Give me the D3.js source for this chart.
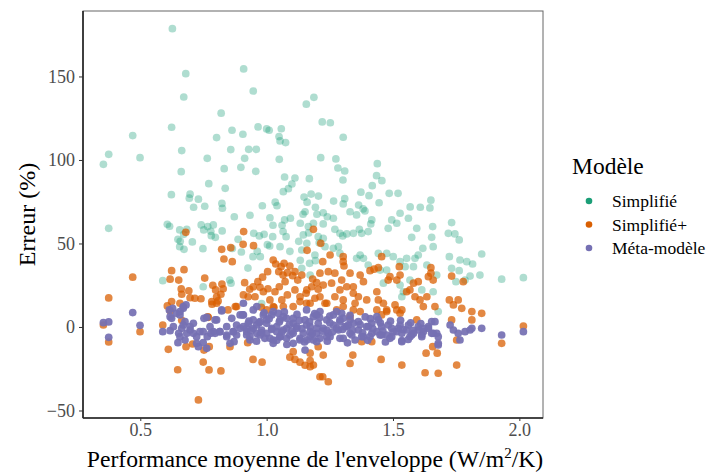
<!DOCTYPE html>
<html><head><meta charset="utf-8">
<script src="https://cdn.jsdelivr.net/npm/d3@7"></script>
<style>body{margin:0;background:#fff}svg{display:block}</style>
</head><body>
<svg id="c" width="728" height="476"></svg>
<script>
const seriesNames = ["Simplifié", "Simplifié+", "Méta-modèle"];
const seriesColors = ["#1B9E77", "#D95F02", "#7570B3"];
const xTicks = [0.5, 1.0, 1.5, 2.0];
const yTicks = [-50, 0, 50, 100, 150];

const simplifieX = [0.627,0.68,0.909,0.672,0.947,1.187,1.157,0.82,0.624,0.47,0.375,0.354,0.499,0.664,0.662,0.623,0.802,0.863,0.906,0.966,1.0,1.01,1.058,1.049,1.053,1.075,0.858,0.929,0.959,0.913,0.765,0.898,0.832,0.957,1.05,0.771,0.836,1.071,1.112,1.169,1.086,1.1,1.066,0.697,0.694,0.73,0.823,0.755,0.711,0.983,1.034,1.148,1.176,1.205,1.16,1.193,1.22,1.252,1.303,1.214,1.274,1.282,1.309,1.302,1.438,1.435,1.456,1.418,1.373,1.405,1.485,1.52,1.265,1.303,1.309,1.364,1.382,1.445,1.568,1.608,1.65,1.646,
0.375,0.607,0.616,0.656,0.684,0.672,0.649,0.658,0.656,0.673,0.706,0.748,0.741,0.767,0.789,0.779,0.751,0.781,0.797,0.824,0.825,0.872,0.934,0.887,0.9,0.949,0.971,0.99,1.013,1.025,1.041,1.071,1.094,1.133,1.061,1.065,1.077,1.053,1.012,0.963,0.975,1.003,0.946,1.024,0.926,0.854,0.859,0.749,0.589,0.98,1.127,1.092,1.133,1.166,1.144,1.152,1.199,1.185,1.208,1.17,1.193,1.139,0.864,
1.224,1.24,1.224,1.264,1.27,1.33,1.356,1.389,1.416,1.412,1.367,1.343,1.317,1.301,1.29,1.376,1.402,1.495,1.481,1.515,1.528,1.561,1.594,1.574,1.618,1.657,1.653,1.659,1.732,1.719,1.745,1.762,1.723,1.765,1.792,1.815,1.851,1.93,2.016,1.749,1.785,1.805,1.762,1.732,1.554,1.587,1.6,1.548,1.581,1.634,1.475,1.442,1.501,1.528,1.383,1.37,1.356,1.402,1.449,1.475,1.165,1.204,1.224,1.145,1.159,1.139,1.172,1.191,1.231,1.264,1.284,1.29,1.673,1.614,1.659,1.528,1.535,1.541,1.679,1.844,1.567,1.462];
const simplifieY = [178.6,151.7,154.5,137.7,141.3,137.5,133.4,128,119.6,114.6,103.4,97.4,101.4,105.6,93,79.2,113.4,117.8,115.4,119.8,118.6,117.8,118.7,114,111.4,110.4,106.2,106.4,106.4,101,101,95.6,94.8,93.2,100.4,85.8,83,89.8,89.2,88.8,82.8,85.6,81,79.5,77.1,76.5,74,72.3,71.7,72.6,74.7,77.8,79.6,78.4,74.7,71.7,122.8,122.3,113.6,101.4,100.6,95.2,93.4,88,97.8,90.6,87.6,84.6,80.7,78.6,80,80,75.4,73.7,76.8,73,70.7,74.4,71.9,71.7,75.9,71.3,
59.1,61.5,60.3,58.1,58.5,55.5,52.5,51.3,48.1,46.5,50.9,46.9,61.1,60.1,61.1,57.3,58.1,54.7,53.7,57.5,71.1,66.0,66.9,52.5,44.9,56.1,54.5,55.5,65.4,60.9,72.6,64.1,65.1,62.1,60.9,57.1,54.1,48.1,48.5,45.3,42.1,49.3,42.1,54.1,35.3,28.1,26.2,24.1,27.7,14.0,51.3,45.3,39.9,56.3,67.5,69.0,67.5,62.1,50.5,38.1,39.7,35.1,47.0,
68.4,66.0,61.7,65.1,58.5,69.0,67.1,69.5,64.1,61.7,58.5,56.1,55.7,54.5,56.1,56.1,57.1,64.1,59.1,62.1,68.1,65.1,59.1,53.7,47.1,60.1,53.7,48.1,62.5,56.1,55.7,52.1,42.1,40.1,39.1,37.7,43.7,28.6,29.5,27.1,28.1,30.5,33.7,35.1,41.1,41.1,43.1,36.1,36.1,37.1,44.1,44.1,42.1,39.1,41.1,43.1,41.1,37.1,34.1,34.1,60.1,54.1,53.1,55.1,50.1,46.1,31.1,43.1,48.1,47.1,48.1,44.1,31.1,22.2,21.1,25.1,18.1,21.1,9.2,31.1,28.1,26.2];

const simplifiePlusX = [0.68,0.909,0.822,0.858,0.907,0.948,0.831,0.864,0.47,0.375,0.624,0.673,0.618,0.652,0.755,0.662,0.692,0.664,0.697,0.716,0.74,0.787,0.798,0.823,0.828,0.802,0.819,0.784,0.808,0.876,0.847,0.767,0.607,0.619,0.913,0.933,0.947,0.965,0.984,1.004,1.026,1.036,1.057,1.069,1.092,1.103,1.112,1.123,1.16,1.048,1.065,1.082,1.073,1.05,1.033,1.005,0.987,0.974,0.954,0.927,0.908,1.013,0.979,1.06,1.082,1.112,1.132,1.156,1.178,1.182,1.198,1.204,1.158,1.105,1.029,1.0,1.191,1.139,
1.185,1.214,1.251,1.303,1.303,1.306,1.222,1.455,1.409,1.425,1.442,1.525,1.65,1.65,1.211,1.244,1.27,1.297,1.33,1.37,1.383,1.343,1.317,1.29,1.257,1.224,1.159,1.211,1.231,1.27,1.303,1.343,1.363,1.396,1.442,1.481,1.515,1.488,1.528,1.6,1.581,1.64,1.659,1.567,1.554,1.587,1.634,1.607,1.666,1.723,1.758,1.772,1.812,1.851,1.732,1.778,1.436,1.462,1.475,1.515,1.528,1.303,1.343,
0.354,0.375,0.499,0.589,0.611,0.648,0.681,0.707,0.752,0.749,0.772,0.819,0.73,0.773,0.855,0.925,0.946,0.982,1.105,1.092,1.112,1.132,1.152,1.172,1.185,1.172,1.204,1.211,0.624,0.657,0.783,0.802,0.881,1.026,1.066,1.132,1.172,0.769,0.664,
1.238,1.35,1.508,1.535,1.62,1.739,1.812,1.732,1.752,1.93,2.016,1.172,1.224,1.222,1.244,1.33,1.341,1.453,1.535,1.631,1.675,1.657,1.627,1.679,1.752,1.416,1.376,1.475,1.455,1.594,1.436,1.33,1.37,1.277];
const simplifiePlusY = [56.7,57.1,46.5,47.5,49.5,48.7,40.7,39.1,29.8,17.4,33.7,34.3,28.6,28.1,29.3,22.8,21.7,19.6,17.5,17.2,16.9,25.0,22.2,25.7,22.9,18.1,19.6,13.6,15.6,12.2,10.2,6.0,12.6,9.6,26.5,22.6,24.1,27.1,29.8,33.1,40.1,37.7,36.1,38.1,36.5,30.7,33.1,28.1,45.9,33.1,31.1,32.5,27.1,24.1,21.1,22.9,21.1,23.8,18.1,18.1,19.2,16.2,11.8,16.2,19.2,22.2,18.1,20.2,24.1,28.7,26.5,22.6,14.2,12.2,11.8,10.2,17.2,31.1,
58.5,50.1,43.1,42.1,39.1,36.5,39.1,42.1,33.7,34.6,35.5,36.1,35.5,32.2,32.2,33.1,32.2,28.1,32.2,31.1,27.1,24.1,24.1,22.2,26.2,25.1,22.2,18.1,14.2,18.1,16.2,20.2,18.1,16.2,16.2,28.1,28.1,30.1,31.1,27.1,26.2,30.1,28.1,22.2,21.1,18.1,18.1,16.2,12.2,16.2,16.2,11.2,9.2,8.2,30.5,27.1,21.1,14.2,10.2,10.2,8.2,12.2,10.2,
1.2,-9.0,-2.8,1.2,-13.4,-25.6,-11.8,-10.2,-13.8,-21.0,-25.7,-26.3,-43.7,-11.8,-11.8,-9.4,-19.4,-21.1,-14.8,-18.1,-19.4,-21.1,-22.9,-20.2,-22.8,-23.8,-11.8,-29.8,15.2,14.2,15.2,14.2,12.2,12.2,12.2,15.2,14.2,5.8,4.0,
14.2,14.2,13.2,10.2,12.2,13.2,4.2,4.2,-7.8,-9.8,0.6,-15.7,-16.8,-29.8,-32.8,-21.8,-16.8,-19.4,-22.8,-15.7,-15.7,-11.8,-27.4,-27.7,-22.8,-8.8,-8.8,9.2,7.2,4.2,10.2,6.2,9.2,10.2];

const metaX = [0.354,0.375,0.375,0.47,0.499,0.589,0.618,0.624,0.615,0.628,0.644,0.657,0.67,0.681,0.677,0.664,0.652,0.684,0.697,0.71,0.723,0.649,0.677,0.73,0.749,0.765,0.779,0.736,0.752,0.763,0.802,0.822,0.789,0.815,0.842,0.868,0.881,0.862,0.871,0.908,0.905,0.908,0.921,0.947,0.934,0.961,0.98,1.0,0.993,1.02,1.04,1.053,1.066,1.079,1.105,1.119,1.145,1.172,1.198,1.053,1.079,1.105,1.158,1.185,1.204,0.974,1.0,1.02,1.046,0.947,0.927,1.152,1.026,1.132,1.185,0.961,0.881,0.842,0.763,
1.152,1.172,1.224,1.244,1.264,1.284,1.29,1.31,1.33,1.343,1.363,1.383,1.396,1.416,1.436,1.455,1.475,1.495,1.515,1.528,1.554,1.581,1.6,1.62,1.64,1.659,1.653,1.673,1.679,1.726,1.739,1.758,1.765,1.785,1.805,1.812,1.851,1.93,2.016,1.535,1.436,1.211,1.264,1.297,1.238,1.303,1.35,1.409,1.488,1.567,1.614,1.159,1.449,
0.908,0.947,0.987,1.026,1.066,1.105,1.198,1.238,1.277,1.303,0.921,0.961,1.0,1.04,1.079,1.119,1.158,1.198,1.238,1.277,1.317,0.934,0.974,1.013,1.053,1.092,1.132,1.172,1.211,1.251,1.29,1.026,1.105,1.198,
1.323,1.363,1.402,1.442,1.481,1.521,1.561,1.6,1.64,1.666,1.337,1.376,1.416,1.455,1.495,1.535,1.574,1.614,1.653,1.679,1.535,1.679,
0.618,0.657,0.67,0.631,0.67,0.697,0.71,0.749,0.776,0.796,0.815,0.842,0.868,0.895,0.921,0.657,0.723,0.855,0.895,0.822,0.796,
0.93,0.97,1.01,1.05,1.09,1.13,1.17,1.21,1.25,1.29,1.33,1.37,1.41,1.45,1.49,1.53,1.57,1.61,
0.94,0.98,1.02,1.06,1.10,1.14,1.18,1.22,1.26,1.30,1.34,1.38,1.42,1.46,1.50,1.54,1.58,1.62,
0.96,1.04,1.08,1.15,1.24,1.32,1.40,1.47,1.56,
0.99,1.07,1.12,1.19,1.25,1.33,1.39];
const metaY = [2.6,3.0,-6.2,8.6,1.0,-2.8,-2.2,5.2,10.2,11.2,8.2,7.2,11.2,13.2,3.2,-0.8,-3.8,-3.8,0.2,-3.8,-5.8,-9.4,-7.8,-11.8,-9.4,-5.8,-3.8,-2.8,5.2,5.8,4.2,9.6,-2.8,-2.8,0.2,-2.8,1.2,5.2,-8.8,14.2,7.2,0.2,-2.8,-0.8,-7.8,-3.8,-1.8,-3.8,-6.8,-0.8,-2.8,-5.8,-1.8,-6.8,-3.8,-0.8,-3.8,-2.8,-3.8,4.2,5.2,2.2,10.2,6.2,2.2,3.2,4.2,7.2,8.2,4.2,2.2,-13.8,-7.8,-7.8,-7.8,12.2,-4.8,-5.8,-12.8,
4.2,0.2,-0.8,-3.8,1.2,-1.8,4.2,0.2,-3.8,2.2,-1.8,-5.8,0.2,2.2,-2.8,0.2,-4.8,-0.8,-2.8,1.2,-1.8,-3.8,0.2,-2.8,-0.8,-3.8,3.2,-3.8,-10.8,1.2,-1.8,-3.8,-7.8,-2.8,-1.8,-0.8,-0.8,-4.8,-2.8,-8.2,6.2,9.2,7.2,8.2,-5.8,-6.8,-7.8,-5.8,-6.8,-5.8,-4.8,-7.8,-4.8,
7.2,10.2,7.2,9.2,6.2,5.2,7.2,4.2,9.2,5.2,-0.8,1.2,2.2,0.2,-0.8,0.2,1.2,-0.8,-1.8,-0.8,0.2,-5.8,-4.8,-6.8,-5.8,-4.8,-6.8,-5.8,-6.8,-5.8,-6.8,-9.8,-9.8,-8.8,
1.2,3.2,0.2,4.2,1.2,-0.8,1.2,-1.8,0.2,3.2,-4.8,-5.8,-3.8,-4.8,-5.8,-3.8,-4.8,-5.8,-3.8,-5.8,-8.8,-9.8,
6.2,9.2,12.2,0.2,1.2,-1.8,2.2,-2.8,0.2,-3.8,-2.8,-4.8,-2.8,-0.8,-4.8,-5.8,-9.8,-9.8,7.2,10.2,4.2,
3.5,2.5,5,3,1.5,4,3,5.5,2.5,3,4.5,1.5,5,2.5,3.5,4,2.5,2,
-2,-3.5,-1.5,-3,-2.5,-1,-4,-2.5,-3,-1.5,-2,-3.5,-1,-2.5,-3,-1.5,-2,-1,
-8.5,-8,-10.5,-9,-8.5,-9.5,-8,-9,-7.5,
8.5,9,7.5,8,6.5,7,6];

const seriesX = [simplifieX, simplifiePlusX, metaX];
const seriesY = [simplifieY, simplifiePlusY, metaY];
const seriesOpacity = [0.35, 0.74, 0.93];

const svg = d3.select("#c");
const font = "Liberation Serif, Times New Roman, serif";
const L = 83, R = 543, T = 11, B = 418;
const x = d3.scaleLinear().domain([0.2733, 2.0936]).range([L, R]);
const y = d3.scaleLinear().domain([-54.5, 189.2]).range([B, T]);

// points
seriesNames.forEach((name, i) => {
  const data = seriesX[i].map((v, j) => [v, seriesY[i][j]]);
  svg.append("g").selectAll("circle").data(data).join("circle")
    .attr("cx", d => x(d[0])).attr("cy", d => y(d[1])).attr("r", 3.85)
    .attr("fill", seriesColors[i]).attr("fill-opacity", seriesOpacity[i]);
});

// panel border
svg.append("rect").attr("x", L).attr("y", T).attr("width", R - L).attr("height", B - T)
  .attr("fill", "none").attr("stroke", "#666").attr("stroke-width", 1);

// axes
const xAxis = svg.append("g").attr("transform", `translate(0,${B})`)
  .call(d3.axisBottom(x).tickValues(xTicks).tickFormat(d3.format(".1f")).tickSize(3).tickPadding(2));
const yAxis = svg.append("g").attr("transform", `translate(${L},0)`)
  .call(d3.axisLeft(y).tickValues(yTicks).tickFormat(d3.format("d")).tickSize(4).tickPadding(4));
[xAxis, yAxis].forEach(a => {
  a.attr("font-family", font).attr("font-size", 18);
  a.select(".domain").attr("stroke", "#222").attr("stroke-width", 1.6);
  a.selectAll(".tick line").attr("stroke", "#333").attr("stroke-width", 1);
  a.selectAll(".tick text").attr("fill", "#4d4d4d").attr("font-family", font).attr("font-size", 18);
});
xAxis.select(".domain").attr("d", `M${L},0H${R}`);
yAxis.select(".domain").attr("d", `M0,${T}V${B}`);

// axis titles
svg.append("text").attr("transform", `translate(35,${(T + B) / 2}) rotate(-90)`)
  .attr("text-anchor", "middle").attr("font-family", font).attr("font-size", 24).attr("fill", "#000")
  .text("Erreur (%)");
const xt = svg.append("text").attr("x", (L + R) / 2 + 2).attr("y", 467).attr("text-anchor", "middle")
  .attr("font-family", font).attr("font-size", 23.7).attr("fill", "#000");
xt.append("tspan").text("Performance moyenne de l'enveloppe (W/m");
xt.append("tspan").attr("dy", -9).attr("font-size", 15).text("2");
xt.append("tspan").attr("dy", 9).text("/K)");

// legend
svg.append("text").attr("x", 572).attr("y", 174).attr("font-family", font).attr("font-size", 23.5)
  .attr("fill", "#000").text("Modèle");
seriesNames.forEach((name, i) => {
  const cy = 201 + i * 23.5;
  svg.append("circle").attr("cx", 589).attr("cy", cy).attr("r", 3.3).attr("fill", seriesColors[i]);
  svg.append("text").attr("x", 612).attr("y", cy + 6).attr("font-family", font).attr("font-size", 17.5)
    .attr("fill", "#000").text(name);
});
</script>
</body></html>
